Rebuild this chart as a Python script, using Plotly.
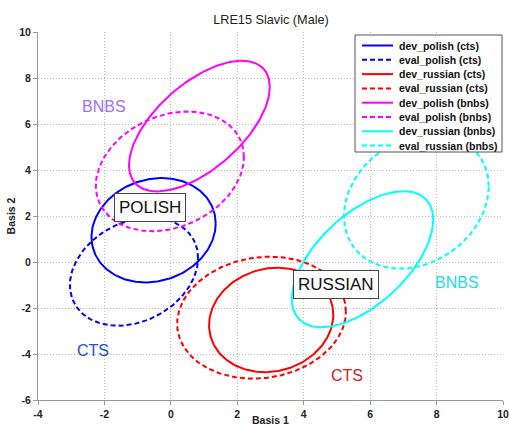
import numpy as np
import plotly.graph_objects as go

# ---- data ----
series_names = ["dev_polish (cts)", "eval_polish (cts)", "dev_russian (cts)", "eval_russian (cts)",
                "dev_polish (bnbs)", "eval_polish (bnbs)", "dev_russian (bnbs)", "eval_russian (bnbs)"]
center_x = [-0.52, -1.11, 3.02, 2.73, 0.86, -0.03, 5.77, 7.39]
center_y = [1.38, -0.42, -2.52, -2.42, 5.91, 3.94, 0.12, 2.64]
spread_x = [1.87, 1.93, 1.87, 2.54, 2.12, 2.23, 2.13, 2.18]
spread_y = [2.27, 2.35, 2.27, 2.65, 2.84, 2.60, 2.96, 2.93]
correlation = [0.13, 0.25, 0.10, 0.10, 0.60, 0.24, 0.58, 0.22]

label_text = ["POLISH", "RUSSIAN", "BNBS", "CTS", "CTS", "BNBS"]
label_x = [-0.64, 4.98, -2.0, -2.33, 5.3, 8.61]
label_y = [2.37, -0.97, 6.75, -3.85, -4.93, -0.89]

x_ticks = [-4, -2, 0, 2, 4, 6, 8, 10]
y_ticks = [-6, -4, -2, 0, 2, 4, 6, 8, 10]

# ---- styles ----
colors = ["#0000ff", "#0000ff", "#ff0000", "#ff0000", "#ff00ff", "#ff00ff", "#00ffff", "#00ffff"]
dashes = ["solid", "5px,3px"] * 4
label_colors = ["#111111", "#111111", "#a070f5", "#1f4fcf", "#c8242a", "#26d8e8"]
label_boxed = [True, True, False, False, False, False]

FONT = "Liberation Sans, Arial, sans-serif"
W, H = 510, 426
ML, MR, MT, MB = 38, 7, 32, 26
PW, PH = W - ML - MR, H - MT - MB


def px_to_paper(px, py):
    return (px - ML) / PW, (H - MB - py) / PH


fig = go.Figure()
t = np.linspace(0, 2 * np.pi, 241)
for i, name in enumerate(series_names):
    r = correlation[i]
    xs = center_x[i] + spread_x[i] * np.cos(t)
    ys = center_y[i] + spread_y[i] * (r * np.cos(t) + np.sqrt(1 - r * r) * np.sin(t))
    fig.add_trace(go.Scatter(x=xs, y=ys, mode="lines", name=name, showlegend=False,
                             line=dict(color=colors[i], width=2, dash=dashes[i])))

for i, txt in enumerate(label_text):
    if label_boxed[i]:
        fig.add_annotation(x=label_x[i], y=label_y[i], text=txt, showarrow=False,
                           font=dict(family=FONT, size=17, color=label_colors[i]),
                           bgcolor="white", bordercolor="#444444", borderwidth=1,
                           borderpad=4)
    else:
        fig.add_annotation(x=label_x[i], y=label_y[i], text=txt, showarrow=False,
                           font=dict(family=FONT, size=16, color=label_colors[i]))

# ---- legend box (drawn in paper coordinates, MATLAB style) ----
x0, y0 = px_to_paper(355, 35)
x1, y1 = px_to_paper(502, 152)
fig.add_shape(type="rect", xref="paper", yref="paper", x0=x0, y0=y1, x1=x1, y1=y0,
              fillcolor="white", line=dict(color="#555555", width=1), layer="above")
for i, name in enumerate(series_names):
    row_y = 45.5 + 14.3 * i
    lx0, ly = px_to_paper(362, row_y)
    lx1, _ = px_to_paper(393, row_y)
    tx, _ = px_to_paper(396.5, row_y)
    fig.add_shape(type="line", xref="paper", yref="paper", x0=lx0, x1=lx1, y0=ly, y1=ly,
                  line=dict(color=colors[i], width=2, dash=dashes[i]), layer="above")
    fig.add_annotation(xref="paper", yref="paper", x=tx, y=ly, text=name, showarrow=False,
                       xanchor="left", yanchor="middle",
                       font=dict(family=FONT, size=10.5, color="#111111", weight="bold"))

# x-axis title placed low, as in the reference, but kept fully on the page
xt, yt = px_to_paper(270.5, 419.5)
fig.add_annotation(xref="paper", yref="paper", x=xt, y=yt, text="Basis 1", showarrow=False,
                   xanchor="center", yanchor="middle",
                   font=dict(family=FONT, size=10.5, color="#222222", weight="bold"))

fig.update_layout(
    width=W, height=H,
    margin=dict(l=ML, r=MR, t=MT, b=MB, autoexpand=False),
    paper_bgcolor="white", plot_bgcolor="white",
    title=dict(text="LRE15 Slavic (Male)", x=271 / W, xanchor="center", y=1 - 19.5 / H,
               yanchor="middle", font=dict(family=FONT, size=12.7, color="#222222")),
    showlegend=False,
)
axis_common = dict(
    showgrid=True, gridcolor="#bdbdbd", griddash="1px,2px", gridwidth=1,
    zeroline=False, showline=True, linecolor="#999999", linewidth=1,
    ticks="outside", ticklen=4, tickcolor="#999999",
    tickfont=dict(family=FONT, size=10.5, color="#222222", weight="bold"),
    automargin=False,
)
fig.update_xaxes(range=[-4, 10], tickvals=x_ticks, ticktext=[str(v) for v in x_ticks],
                 **axis_common)
fig.update_yaxes(range=[-6, 10], tickvals=y_ticks, ticktext=[str(v) for v in y_ticks],
                 title=dict(text="Basis 2", standoff=1,
                            font=dict(family=FONT, size=10.5, color="#222222", weight="bold")),
                 **axis_common)

fig.write_html("out.html", post_script="document.body.style.margin='0';",
               config={"displayModeBar": False})
